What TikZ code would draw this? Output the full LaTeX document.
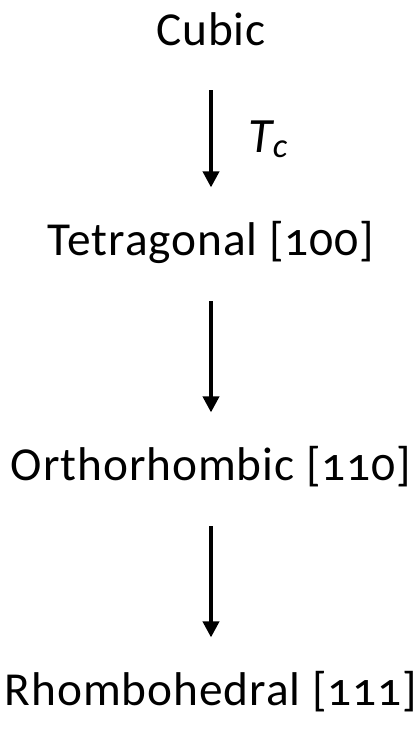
\documentclass[tikz,border=0pt]{standalone}
\usepackage{fontspec}
\setmainfont[Numbers=OldStyle,LetterSpace=2]{Carlito}
\usetikzlibrary{arrows.meta}
\begin{document}
\begin{tikzpicture}[x=0.75pt,y=-0.75pt,
  lbl/.style={anchor=base,inner sep=0pt,font=\fontsize{35.5}{40}\selectfont,text height=22.5pt,text depth=6pt},
  arr/.style={line width=2.8pt,-{Triangle[width=12pt,length=12pt]}}]
\useasboundingbox (0,0) rectangle (417,740);
\node[lbl] (c) at (211,45) {Cubic};
\node[lbl] (t) at (211,255) {Tetragonal [100]};
\node[lbl] (o) at (211,480) {Orthorhombic [110]};
\node[lbl] (r) at (211,705) {Rhombohedral [111]};
\draw[arr,shorten <=27.75pt,shorten >=28pt] (c) -- (t) node[pos=0.5,right=27pt,font=\fontsize{37}{40}\selectfont\itshape,inner sep=0pt] (tc) {T\textsubscript{c}};
\draw[arr,shorten <=28.5pt,shorten >=28pt] (t) -- (o);
\draw[arr,shorten <=28.5pt,shorten >=28pt] (o) -- (r);
\end{tikzpicture}
\end{document}
